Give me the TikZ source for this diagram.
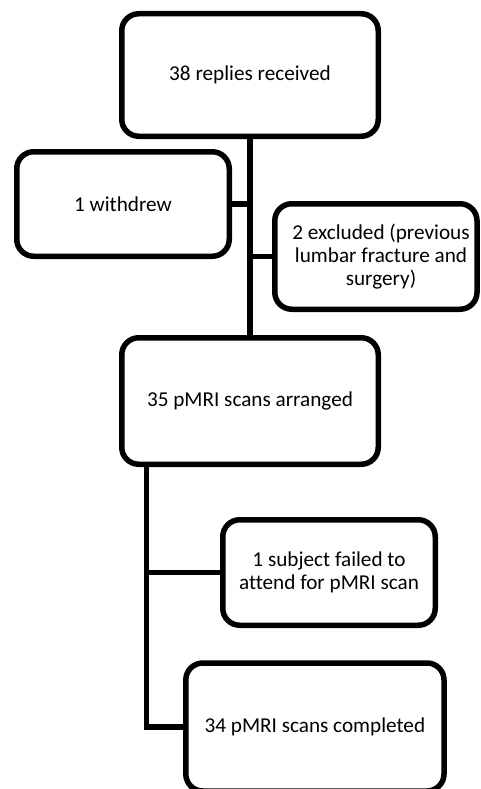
\documentclass[tikz,border=0pt]{standalone}
\usepackage{fontspec}
\setmainfont{Carlito}[Ligatures=NoCommon]
\begin{document}
\begin{tikzpicture}[x=1pt,y=-1pt,
  box/.style={draw=black, line width=5.5pt, rounded corners=17pt, fill=white,
    inner sep=0pt, align=center, font=\fontsize{21.2}{23}\selectfont},
  conn/.style={draw=black, line width=5.5pt}]
\useasboundingbox (0,0) rectangle (480,789);
\fill[white] (0,0) rectangle (480,789);
\node[box, minimum width=256.5pt, minimum height=122.5pt] (b1) at (250,75) {38 replies received};
\node[box, minimum width=212.5pt, minimum height=104.5pt] (b2) at (123,204) {1 withdrew};
\node[box, minimum width=202.25pt, minimum height=105.5pt] (b3) at (375.9,256.5) {};
\node[align=center, font=\fontsize{21.2}{23}\selectfont, inner sep=0pt] (b3t) at (381,256.5) {2 excluded (previous\\lumbar fracture and\\surgery)};
\node[box, minimum width=256.5pt, minimum height=126.5pt] (b4) at (250,401) {35 pMRI scans arranged};
\node[box, minimum width=212.5pt, minimum height=105.5pt] (b5) at (329,572.5) {1 subject failed to\\attend for pMRI scan};
\node[box, minimum width=258.25pt, minimum height=128pt] (b6) at (314.9,727) {34 pMRI scans completed};
\coordinate (j2) at (146.7,0);
\draw[conn] (b1.south) -- (b4.north);
\draw[conn] (b2.east) -- (b2.east -| b1.south);
\draw[conn] (b3.west) -- (b3.west -| b1.south);
\draw[conn] (j2 |- b4.south) -- (j2 |- b6.west) -- (b6.west);
\draw[conn] (j2 |- b5.west) -- (b5.west);
\end{tikzpicture}
\end{document}
